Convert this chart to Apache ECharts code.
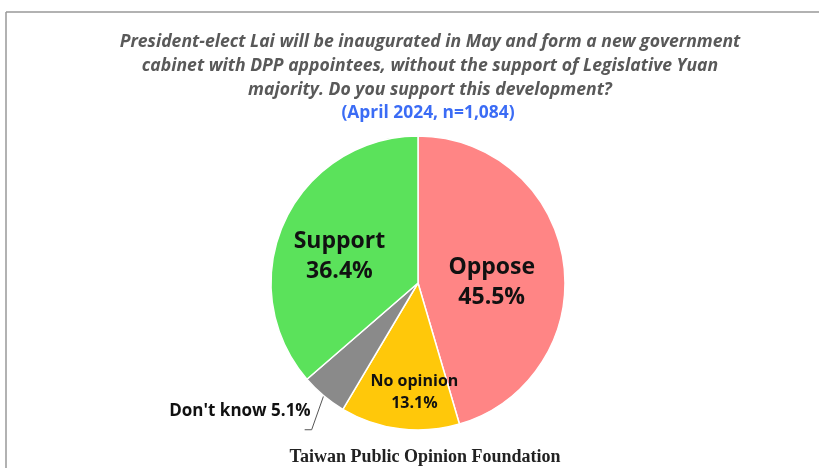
<!DOCTYPE html>
<html>
<head>
<meta charset="utf-8">
<script src="https://cdn.jsdelivr.net/npm/echarts@6/dist/echarts.min.js"></script>
<style>
  html, body { margin: 0; padding: 0; background: #fff; }
  #chart { width: 819px; height: 468px; }
</style>
</head>
<body>
<div id="chart"></div>
<script>
// Survey responses, clockwise from 12 o'clock
const categories = ['Oppose', 'No opinion', "Don't know", 'Support'];
const shares = [45.5, 13.1, 5.1, 36.4];
const sliceColors = ['#FF8585', '#FFC80A', '#8A8A8A', '#5BE25B'];

const questionLines = [
  'President-elect Lai will be inaugurated in May and form a new government',
  'cabinet with DPP appointees, without the support of Legislative Yuan',
  'majority. Do you support this development?'
];
const sampleNote = '(April 2024, n=1,084)';
const sourceNote = 'Taiwan Public Opinion Foundation';

const labelFont = 'Open Sans, Lato, sans-serif';
const pieCenter = [418, 283];
const pieRadius = 147;

// Per-slice label styling: big inside labels, small inside label, outside label
function labelFor(name) {
  if (name === 'Oppose' || name === 'Support') {
    return { show: true, position: 'inside', fontSize: 23, fontWeight: 'bold',
             color: '#111', lineHeight: 30, fontFamily: labelFont,
             formatter: '{b}\n{c}%' };
  }
  if (name === 'No opinion') {
    return { show: true, position: 'inside', fontSize: 16, fontWeight: 'bold',
             color: '#111', lineHeight: 22, fontFamily: labelFont,
             formatter: '{b}\n{c}%' };
  }
  return { show: true, position: 'outside', fontSize: 17, fontWeight: 'bold',
           color: '#111', fontFamily: labelFont, formatter: '{b} {c}%' };
}

const pieData = categories.map((name, i) => ({
  name: name,
  value: shares[i],
  itemStyle: { color: sliceColors[i] },
  label: labelFor(name),
  labelLine: name === "Don't know"
    ? { show: true, length: 30, length2: 8, lineStyle: { color: '#555', width: 1 } }
    : { show: false }
}));

// rim point at the middle of slice i (angles clockwise from 12 o'clock)
function rimPoint(i) {
  const total = shares.reduce((a, b) => a + b, 0);
  let before = 0;
  for (let k = 0; k < i; k++) before += shares[k];
  const mid = (before + shares[i] / 2) / total * 2 * Math.PI;
  return [pieCenter[0] + pieRadius * Math.sin(mid),
          pieCenter[1] - pieRadius * Math.cos(mid)];
}

const chart = echarts.init(document.getElementById('chart'), null, { renderer: 'canvas' });

chart.setOption({
  backgroundColor: '#ffffff',
  animation: false,
  title: [
    {
      text: questionLines.join('\n'),
      left: 425, top: 25, textAlign: 'center',
      textStyle: { fontFamily: 'Open Sans, sans-serif',
                   fontStyle: 'italic', fontWeight: 'bold', fontSize: 17.6,
                   lineHeight: 24, color: '#595959' }
    },
    {
      text: sampleNote,
      left: 423, top: 100, textAlign: 'center',
      textStyle: { fontFamily: 'Open Sans, sans-serif',
                   fontWeight: 'bold', fontSize: 17.4, color: '#3B6CF5' }
    },
    {
      text: sourceNote,
      left: 420, top: 443, textAlign: 'center',
      textStyle: { fontFamily: 'Liberation Serif, serif', fontWeight: 'bold',
                   fontSize: 18, color: '#222' }
    }
  ],
  graphic: [
    // chart frame: top and left edges
    { type: 'line', shape: { x1: 6, y1: 12, x2: 819, y2: 12 },
      style: { stroke: '#999', lineWidth: 1.5 }, silent: true },
    { type: 'line', shape: { x1: 6, y1: 12, x2: 6, y2: 468 },
      style: { stroke: '#999', lineWidth: 1.5 }, silent: true }
  ],
  series: [{
    type: 'pie',
    center: pieCenter,
    radius: pieRadius,
    startAngle: 90,
    clockwise: true,
    avoidLabelOverlap: false,
    itemStyle: { borderColor: '#fff', borderWidth: 1.5 },
    labelLayout: function (params) {
      if (params.dataIndex === 1) return { dy: 34, dx: 6 };
      if (params.dataIndex === 0) return { dy: 10, dx: -2 };
      if (params.dataIndex === 3) return { dx: -9, dy: 5 };
      if (params.dataIndex === 2) {
        // bent leader: steep drop from the rim, short horizontal tail,
        // text sitting above and left of the tail
        const p0 = rimPoint(2);
        const p1 = [p0[0] - 12, p0[1] + 34];
        const p2 = [p1[0] - 7, p1[1]];
        return {
          x: p2[0] + 6, y: p0[1] + 15,
          align: 'right', verticalAlign: 'middle',
          labelLinePoints: [p0, p1, p2]
        };
      }
      return {};
    },
    data: pieData
  }]
});
</script>
</body>
</html>
